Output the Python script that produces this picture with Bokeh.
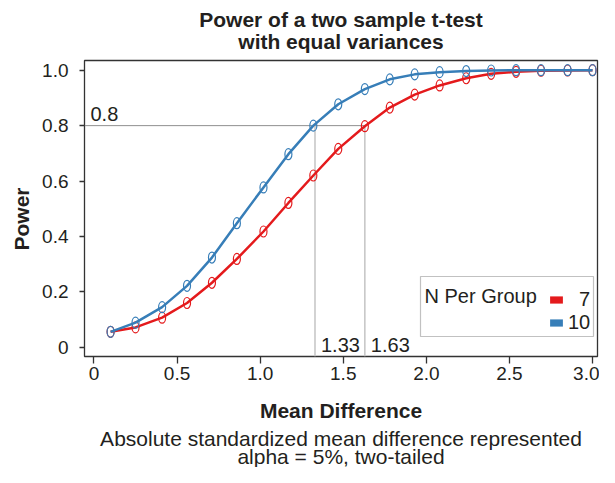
from bokeh.plotting import figure
from bokeh.models import (ColumnDataSource, Range1d, FixedTicker, Label, Legend,
                          LegendItem, BoxAnnotation, Title)
from bokeh.embed import file_html
from bokeh.resources import INLINE

# ---- data ----
mean_diff = [0.10, 0.25, 0.41, 0.56, 0.71, 0.86, 1.02, 1.17, 1.32, 1.47,
             1.63, 1.78, 1.93, 2.08, 2.24, 2.39, 2.54, 2.69, 2.85, 3.00]
power_n7 = [0.056, 0.072, 0.107, 0.160, 0.233, 0.319, 0.418, 0.521, 0.620, 0.716,
            0.798, 0.865, 0.912, 0.945, 0.971, 0.987, 0.994, 0.998, 0.999, 1.000]
power_n10 = [0.056, 0.089, 0.145, 0.222, 0.324, 0.448, 0.577, 0.697, 0.800, 0.877,
             0.932, 0.967, 0.985, 0.993, 0.997, 0.999, 1.000, 1.000, 1.000, 1.000]
group_labels = ["\u20077", "10"]
ref_power = 0.8
ref_diffs = [1.33, 1.63]
ref_labels = ["1.33", "1.63"]
x_ticks = [0, 0.5, 1.0, 1.5, 2.0, 2.5, 3.0]
x_tick_labels = ["0", "0.5", "1.0", "1.5", "2.0", "2.5", "3.0"]
y_ticks = [0, 0.2, 0.4, 0.6, 0.8, 1.0]
y_tick_labels = ["0", "0.2", "0.4", "0.6", "0.8", "1.0"]

RED = "#e41a1c"
BLUE = "#377eb8"
TXT = "#231f20"
FONT = "Liberation Sans"

x_start, x_end = -0.057, 3.03
y_start, y_end = -0.033, 1.035

p = figure(width=599, height=467, output_backend="svg", toolbar_location=None,
           title=None, x_range=Range1d(x_start, x_end), y_range=Range1d(y_start, y_end),
           min_border_left=81, min_border_right=2, min_border_top=60, min_border_bottom=111)
p.background_fill_color = "white"
p.border_fill_color = "white"
p.outline_line_color = "#333333"
p.outline_line_width = 1.3
p.xgrid.visible = False
p.ygrid.visible = False

for ax in (p.xaxis[0], p.yaxis[0]):
    ax.axis_line_color = None
    ax.major_tick_line_color = "#333333"
    ax.major_tick_line_width = 1.3
    ax.major_tick_in = 0
    ax.minor_tick_line_color = None
    ax.major_label_text_font = FONT
    ax.major_label_text_font_size = "19px"
    ax.major_label_text_color = TXT
    ax.axis_label_text_font = FONT
    ax.axis_label_text_font_size = "21px"
    ax.axis_label_text_font_style = "bold"
    ax.axis_label_text_color = TXT

p.xaxis.ticker = FixedTicker(ticks=x_ticks)
p.yaxis.ticker = FixedTicker(ticks=y_ticks)
p.xaxis.major_label_overrides = dict(zip(x_ticks, x_tick_labels))
p.yaxis.major_label_overrides = dict(zip(y_ticks, y_tick_labels))
p.xaxis.major_tick_out = 7
p.yaxis.major_tick_out = 5
p.xaxis.major_label_standoff = 3
p.yaxis.major_label_standoff = 11
p.xaxis.axis_label = "Mean Difference"
p.xaxis.axis_label_standoff = 16
p.yaxis.axis_label = None

# y-axis title, a little below the frame centre as in the reference
p.add_layout(Title(text="Power", align="left", offset=106, text_font=FONT,
                   text_font_size="21px", text_font_style="bold", text_color=TXT,
                   standoff=14), "left")

# titles
t_inner = Title(text="with equal variances", align="center", text_font=FONT,
                text_font_size="21px", text_font_style="bold", text_color=TXT, standoff=15)
t_outer = Title(text="Power of a two sample t-test", align="center", text_font=FONT,
                text_font_size="21px", text_font_style="bold", text_color=TXT, standoff=-20)
p.add_layout(t_inner, "above")
p.add_layout(t_outer, "above")

s1 = Title(text="Absolute standardized mean difference represented", align="center",
           text_font=FONT, text_font_size="21px", text_font_style="normal",
           text_color=TXT, standoff=0)
s2 = Title(text="alpha = 5%, two-tailed", align="center", text_font=FONT,
           text_font_size="21px", text_font_style="normal", text_color=TXT, standoff=-14)
p.add_layout(s1, "below")
p.add_layout(s2, "below")

# reference lines
p.segment(x0=[x_start], y0=[ref_power], x1=[max(ref_diffs)], y1=[ref_power],
          line_color="#8f8f8f", line_width=1)
p.segment(x0=ref_diffs, y0=[y_start] * len(ref_diffs), x1=ref_diffs,
          y1=[ref_power] * len(ref_diffs), line_color="#c4c4c4", line_width=1.5)

src = ColumnDataSource(data=dict(x=mean_diff, n7=power_n7, n10=power_n10))
p.line("x", "n7", source=src, line_color=RED, line_width=2.5)
p.ellipse(x="x", y="n7", source=src, width=7, height=11, width_units="screen",
          height_units="screen", fill_color=None, line_color=RED, line_width=1.2)
p.line("x", "n10", source=src, line_color=BLUE, line_width=2.5)
p.ellipse(x="x", y="n10", source=src, width=7, height=11, width_units="screen",
          height_units="screen", fill_color=None, line_color=BLUE, line_width=1.2)

# annotation labels
p.add_layout(Label(x=x_start, y=ref_power, x_offset=6, y_offset=12, text="0.8",
                   text_font=FONT, text_font_size="20px", text_color=TXT,
                   text_baseline="alphabetic"))
for xv, lab in zip(ref_diffs, ref_labels):
    p.add_layout(Label(x=xv, y=y_start, x_offset=6, y_offset=12, text=lab,
                       text_font=FONT, text_font_size="20px", text_color=TXT,
                       text_baseline="alphabetic"))

# legend swatches: zero-size rects (invisible in the plot, filled swatch in the legend)
sw7 = p.rect(x="x", y="n7", source=src, width=0, height=0, fill_color=RED,
             line_color=None)
sw10 = p.rect(x="x", y="n10", source=src, width=0, height=0, fill_color=BLUE,
              line_color=None)
box = BoxAnnotation(left=336, right=509, bottom=20, top=80,
                    left_units="screen", right_units="screen",
                    bottom_units="screen", top_units="screen",
                    fill_color="white", fill_alpha=1.0,
                    line_color="#333333", line_width=1.2)
p.add_layout(box)
p.add_layout(Label(x=340, y=61, x_units="screen", y_units="screen", text="N Per Group",
                   text_font=FONT, text_font_size="20px", text_color=TXT,
                   text_baseline="alphabetic"))
legend = Legend(items=[LegendItem(label=group_labels[0], renderers=[sw7]),
                       LegendItem(label=group_labels[1], renderers=[sw10])],
                location=(464, 22), orientation="vertical", padding=0, margin=0,
                spacing=-3, glyph_width=16, glyph_height=9, label_height=20,
                label_standoff=4, label_text_font=FONT, label_text_font_size="20px",
                label_text_color=TXT, border_line_color=None,
                background_fill_alpha=0)
p.add_layout(legend)

open("out.html", "w").write(file_html(p, INLINE))
